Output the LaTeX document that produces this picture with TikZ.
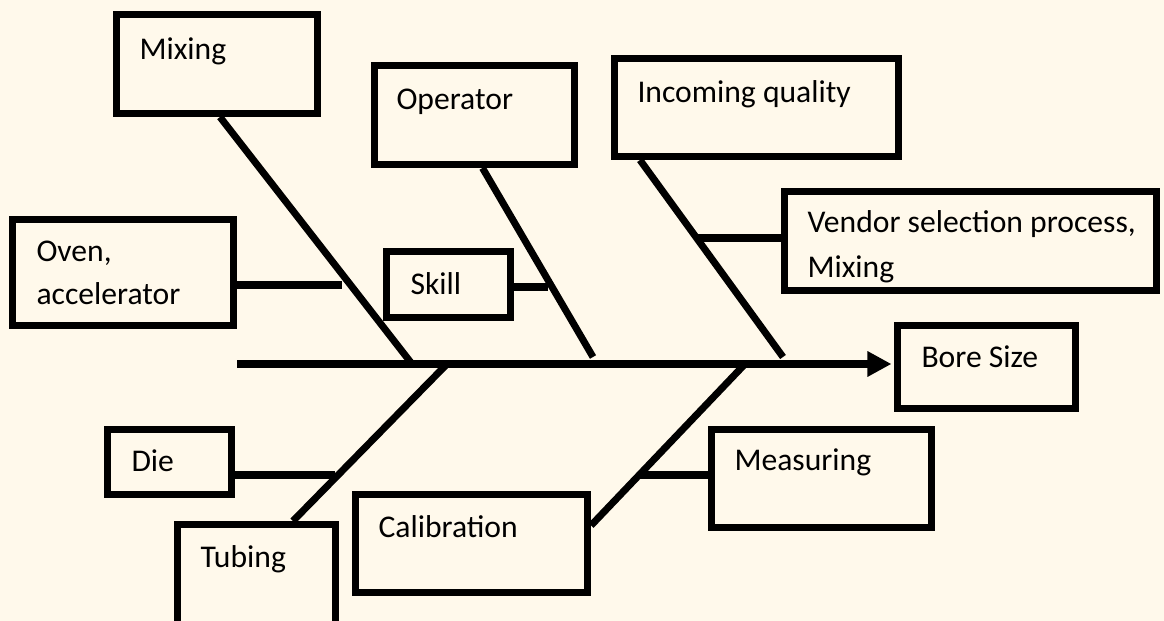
\documentclass[tikz,border=0pt]{standalone}
\usepackage{fontspec}
\setmainfont{Carlito}
\usepackage{tikz}
\usetikzlibrary{arrows.meta,fit,calc}
\usepackage{xcolor}
\definecolor{paper}{RGB}{255,249,235}

\begin{document}
\begin{tikzpicture}[x=0.02cm,y=-0.02cm,>={Triangle[length=0.48cm,width=0.48cm]},
  font=\fontsize{18}{22}\selectfont,line width=4pt,
  box/.style={draw,inner sep=0pt,fit={#1}},
  lbl/.style={anchor=base west,inner sep=0pt}]
\fill[paper] (0,0) rectangle (1164,621);
\useasboundingbox (0,0) rectangle (1164,621);
% boxes
\node[box={(116.5,14.5) (317.5,113.5)}] (mixing) {};
\node[box={(12.5,219.5) (233.5,325.5)}] (oven) {};
\node[box={(374.5,65.5) (574.5,164.5)}] (operator) {};
\node[box={(614.5,58.5) (898.5,156.5)}] (incoming) {};
\node[box={(386.5,251.5) (510.5,317.5)}] (skill) {};
\node[box={(784.5,191.5) (1156.5,290.5)}] (vendor) {};
\node[box={(897.5,325.5) (1075.5,408.5)}] (bore) {};
\node[box={(107.5,429.5) (231.5,494.5)}] (die) {};
\node[box={(177.5,524.5) (335.5,640)}] (tubing) {};
\node[box={(355.5,494.5) (587.5,592.5)}] (calibration) {};
\node[box={(711.5,429.5) (931.5,527.5)}] (measuring) {};
% labels
\node[lbl] (mixingt) at (136,60) {Mixing};
\node[lbl] (ovent) at (33,262) {Oven,};
\node[lbl] (ovenu) at (33,305) {accelerator};
\node[lbl] (operatort) at (393,110) {Operator};
\node[lbl] (incomingt) at (634,103) {Incoming quality};
\node[lbl] (skillt) at (407,295) {Skill};
\node[lbl] (vendort) at (804,233) {Vendor selection process,};
\node[lbl] (vendoru) at (804,278) {Mixing};
\node[lbl] (boret) at (918,368) {Bore Size};
\node[lbl] (diet) at (128,472) {Die};
\node[lbl] (tubingt) at (197,568) {Tubing};
\node[lbl] (calibrationt) at (375,538) {Calibration};
\node[lbl] (measuringt) at (731,471) {Measuring};
% spine and ribs
\coordinate (tail) at (237,364);
\coordinate (s1) at (412,364);
\coordinate (s2) at (593,357);
\coordinate (s3) at (783,357);
\coordinate (s4) at (447,364);
\coordinate (s5) at (745,364);
\coordinate (ov) at (342,285);
\coordinate (sk) at (548,287);
\coordinate (vd) at (697,238);
\coordinate (di) at (335,475);
\coordinate (me) at (640,475);
\draw[->,shorten >=0.05cm] (tail) -- (tail -| bore.west);
\draw ($(mixing.south)+(3,0)$) -- (s1);
\draw ($(operator.south)+(8,0)$) -- (s2);
\draw ($(incoming.south west)+(29,0)$) -- (s3);
\draw ($(tubing.north west)+(119,0)$) -- (s4);
\draw ($(calibration.east)+(0,-18)$) -- (s5);
\draw (oven.east |- ov) -- (ov);
\draw (skill.east |- sk) -- (sk);
\draw (vd) -- (vendor.west |- vd);
\draw (die.east |- di) -- (di);
\draw (me) -- (measuring.west |- me);
\end{tikzpicture}
\end{document}
